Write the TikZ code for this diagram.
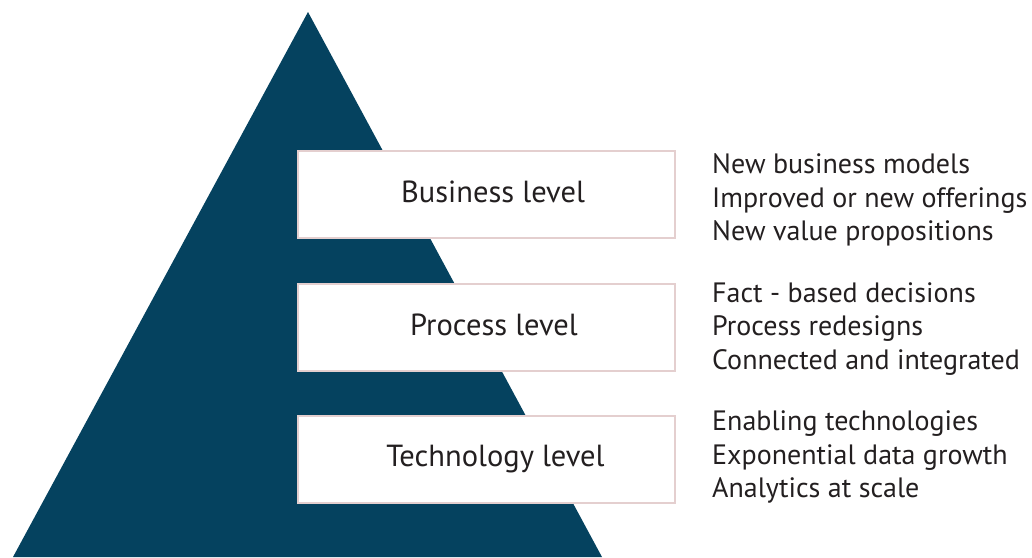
\documentclass[tikz,border=0pt]{standalone}
\usepackage{fontspec}
\setmainfont{PT Sans}
\definecolor{pyr}{HTML}{05425F}
\definecolor{boxline}{HTML}{E4CFCF}
\definecolor{txt}{HTML}{231F20}
\begin{document}
\begin{tikzpicture}[x=1pt,y=-1pt,
  level/.style={draw=boxline,line width=2pt,fill=white,minimum width=377pt,minimum height=87pt,inner sep=0pt},
  lbl/.style={text=txt,font=\fontsize{30.5}{36}\selectfont,inner sep=0pt},
  desc/.style={text=txt,font=\fontsize{28}{33.3}\selectfont,align=left,anchor=west,inner sep=0pt}]
\useasboundingbox (0,0) rectangle (1032,557);
\clip (0,0) rectangle (1032,557);
\fill[pyr] (308,12) -- (13,557) -- (602,557) -- cycle;
\node[level] (bus) at (486.5,194.5) {};
\node[level] (pro) at (486.5,327) {};
\node[level] (tec) at (486.5,459.5) {};
\node[lbl] (busl) at (493,192) {Business level};
\node[lbl] (prol) at (494,325) {Process level};
\node[lbl] (tecl) at (495.5,459) {Technology level};
\node[desc] (busd) at (712,200) {New business models\\Improved or new offerings\\New value propositions};
\node[desc] (prod) at (712,329) {Fact - based decisions\\Process redesigns\\Connected and integrated};
\node[desc] (tecd) at (712,457) {Enabling technologies\\Exponential data growth\\Analytics at scale};
\end{tikzpicture}
\end{document}
